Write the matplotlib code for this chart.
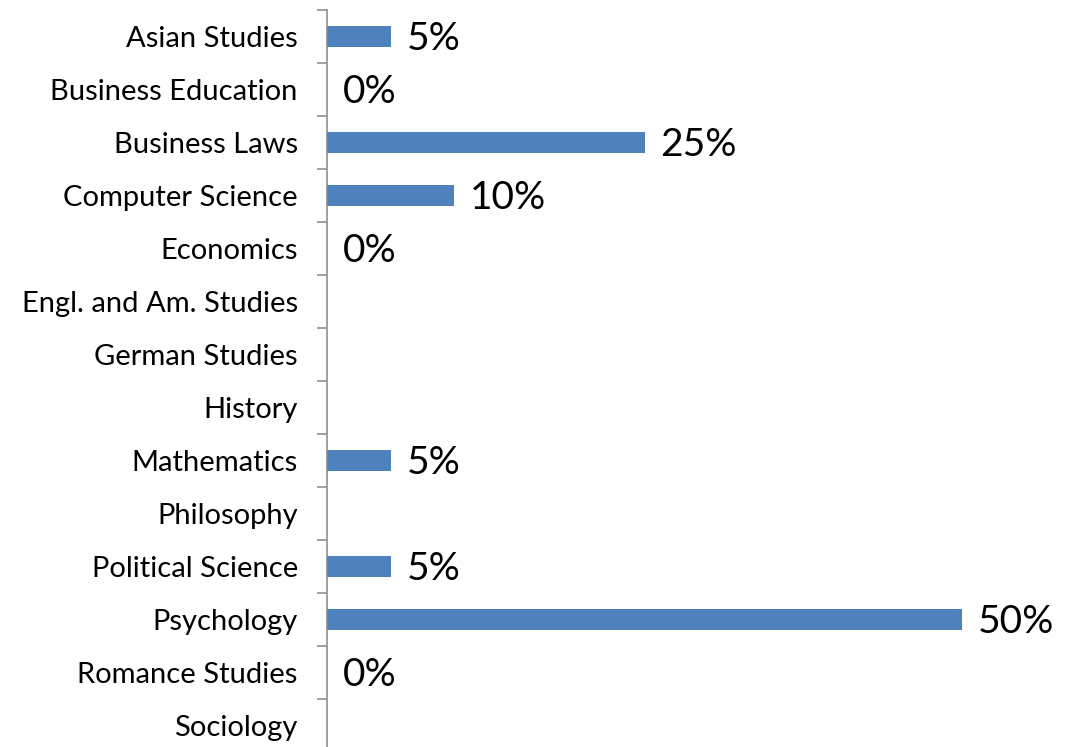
import numpy as np
import matplotlib
matplotlib.use("Agg")
import matplotlib.pyplot as plt

# Share of respondents per field of study (None = no answer given)
fields = [
    "Asian Studies", "Business Education", "Business Laws", "Computer Science",
    "Economics", "Engl. and Am. Studies", "German Studies", "History",
    "Mathematics", "Philosophy", "Political Science", "Psychology",
    "Romance Studies", "Sociology",
]
shares = [5, 0, 25, 10, 0, None, None, None, 5, None, 5, 50, 0, None]

bar_color = "#4F81BD"
axis_gray = "#868686"

plt.rcParams["font.family"] = ["Lato", "DejaVu Sans"]

fig = plt.figure(figsize=(10.69, 7.47), dpi=100)
ax = fig.add_axes([327 / 1069, -5 / 747, 742 / 1069, 742 / 747])

y = np.arange(len(fields))
vals = [v if v is not None else 0 for v in shares]
ax.barh(y, vals, height=0.4, color=bar_color, zorder=2)

# value labels, skipped where there was no answer
for yi, v in zip(y, shares):
    if v is None:
        continue
    ax.annotate(f"{v}%", xy=(v, yi), xytext=(16, -2), textcoords="offset pixels",
                ha="left", va="center", fontsize=28, color="black",
                annotation_clip=False)

ax.set_xlim(0, 50 * 742 / 635)
ax.set_ylim(len(fields) - 0.5, -0.5)

ax.set_yticks(y)
ax.set_yticklabels(fields, fontsize=21)
ax.set_yticks(np.arange(len(fields) + 1) - 0.5, minor=True)
ax.tick_params(axis="y", which="major", length=0, pad=21)
ax.tick_params(axis="y", which="minor", length=7, width=1.1, color=axis_gray)
ax.set_xticks([])

for side in ("top", "right", "bottom"):
    ax.spines[side].set_visible(False)
ax.spines["left"].set_color(axis_gray)
ax.spines["left"].set_linewidth(1.1)

fig.savefig("out.png", dpi=100)
